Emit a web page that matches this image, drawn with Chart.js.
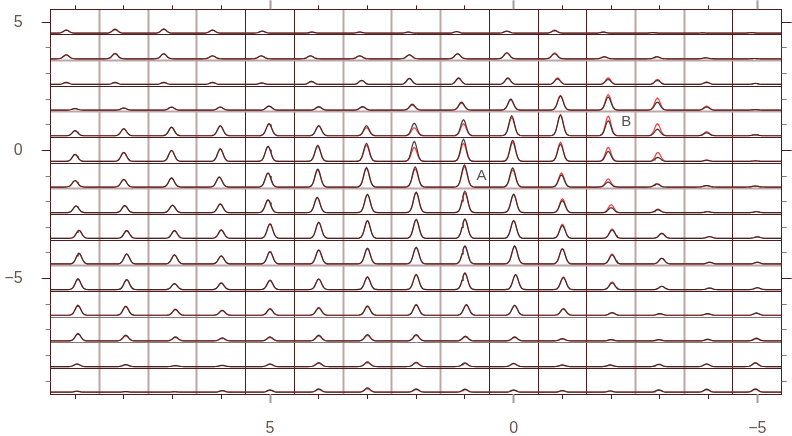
<!DOCTYPE html>
<html><head><meta charset="utf-8">
<script src="https://cdn.jsdelivr.net/npm/chart.js@4/dist/chart.umd.min.js"></script>
<style>html,body{margin:0;padding:0;background:#fff}canvas{display:block}</style>
</head><body>
<canvas id="c" width="792" height="436"></canvas>
<script>
// ---- data ----
const columnCenters = [9,8,7,6,5,4,3,2,1,0,-1,-2,-3,-4,-5];
const rowCenters = [5,4,3,2,1,0,-1,-2,-3,-4,-5,-6,-7,-8,-9];
const xTickValues = [9,8,7,6,5,4,3,2,1,0,-1,-2,-3,-4,-5];
const yTickValues = [5,4,3,2,1,0,-1,-2,-3,-4,-5,-6,-7,-8,-9];
const xLabelValues = [5,0,-5];
const yLabelValues = [5,0,-5];
const vDividers = [8.5,7.5,6.5,5.5,4.5,3.5,2.5,1.5,0.5,-0.5,-1.5,-2.5,-3.5,-4.5];
const vDividerTone = ['light','light','light','dark','dark','light','light','light','dark','dark','dark','light','light','dark'];
const hDividers = [4.5,3.5,2.5,1.5,0.5,-0.5,-1.5,-2.5,-3.5,-4.5,-5.5,-6.5,-7.5,-8.5];
const hDividerTone = ['dark','light','dark','light','dark','dark','light','dark','dark','light','dark','mid','mid','dark'];
// peak line shape (offset in x units, relative height)
const profileOffset = [-0.22,-0.17,-0.13,-0.1,-0.08,-0.06,-0.04,-0.02,0,0.02,0.04,0.06,0.08,0.1,0.13,0.17,0.22];
const profileShape  = [0,0.012,0.074,0.21,0.37,0.57,0.78,0.94,1,0.94,0.78,0.57,0.37,0.21,0.074,0.012,0];
const baselineOffset = -0.43;   // baseline of each strip relative to row centre
const intensityScale = 0.039;   // y units per intensity unit
// peak position shift of each cell (x units), rows top->bottom, columns left->right
const peakShift = [
 [0.18,0.18,0.18,0.18,0.16,0.14,0.16,0.16,0.17,0.14,0.16,0.16,0.14,0.12,0.12],
 [0.18,0.18,0.18,0.18,0.18,0.17,0.16,0.14,0.15,0.14,0.16,0.14,0.06,0.06,0.06],
 [0.18,0.18,0.18,0.18,0.17,0.15,0.12,0.14,0.13,0.12,0.10,0.06,0.05,0.04,0.04],
 [0,0,0.02,0.02,0.02,0,0.10,0.08,0.07,0.06,0.04,0.06,0.05,0.04,0.04],
 [0,0,0.02,0.02,0.02,0,0.02,0.04,0.03,0.04,0.04,0.06,0.05,0.04,0.04],
 [0,0,0.02,0.02,0.04,0.02,0.02,0.04,0.03,0.02,0.04,0.06,0.04,0.04,0.04],
 [0,0,0.02,0.04,0.04,0.02,0.02,0.02,0.01,0.02,0.02,0.06,0.06,0.04,0.04],
 [-0.02,-0.02,0,0.02,0.04,0.03,0,0,0,0,0,0,0.04,0.02,0.02],
 [-0.08,-0.06,-0.04,0,0,0,0,0,0,0,0,-0.02,-0.04,-0.02,0],
 [-0.08,-0.06,-0.04,0,0,0,0,0,0,-0.02,0,-0.02,-0.04,-0.02,0],
 [-0.06,-0.06,-0.04,0,0,0,0,0,0,-0.04,-0.02,-0.02,-0.04,-0.02,0],
 [-0.06,-0.04,-0.06,-0.02,0,0,0,0,-0.03,-0.02,-0.02,-0.02,0,0.02,0.02],
 [-0.06,-0.04,-0.06,-0.02,0,0,0,0,-0.01,-0.02,0,0,0.02,0.02,0.02],
 [-0.04,-0.04,-0.06,-0.02,0,0,0,0,0,0,0,0.02,0.02,0.04,0.04],
 [-0.04,-0.04,-0.04,-0.02,0,0,0,0,0,0,0,0.02,0.02,0.04,0.04]
];
const blackIntensity = [
 [3,4,4,3,2,1,1,1,1.5,2,2.5,1,0.5,0.3,0.5],
 [4,5,5,3,3,3,3,4,5,6,5,2,2,1,0.3],
 [2,2,2,2,1.5,3,4,6,6.5,6.5,5.5,5,4,2,1],
 [1.5,2,3,3,4,3.5,3.5,6,8,11,14,13,8,3,0.5],
 [5,7,8.5,10,12,10,10,12.5,16,20,20.5,15,6.5,3,1],
 [7,9,11,12.5,15,16,18,20,22,21,17,10,4,1,0.5],
 [6.5,7.5,9,10,14,18,19.5,20,22,19,12,5,3,1.5,1],
 [6.7,7,7.5,8.7,12.7,15.3,18.3,20.5,21.5,18.5,12,5,3,1,1],
 [8,7.7,7.7,8.3,14.3,16,17.7,19,19.3,17.7,12.7,8.3,5,1.7,1.5],
 [10.7,10,9,8,12.3,14,15.7,16.7,18,18,15,9,5.7,1.7,1.7],
 [10.7,10,6,6.7,9.3,10.7,12.7,15,16.7,15,12,6.7,3.3,1.5,2],
 [10,9,6,5,6.7,7.7,9.3,10.7,10.7,10,6.7,2.7,1.7,1.7,2.3],
 [7.3,5.7,4,3,4,5.7,6.3,6.3,4.7,4,2.3,1.3,1.3,1.7,2.7],
 [2.7,2,1,1.3,2.7,4,4.7,4.3,3.7,3.3,1.7,1.7,2.3,2.7,4],
 [1,0.7,0.5,1.7,2.3,3.3,4.3,3.3,3,2.3,1.7,1.3,2.3,3,3.3]
];
const redIntensity = [
 [3,3.5,4,3,2,1,1,1,1.5,2,3,1,0.5,0.3,0.5],
 [4,5.5,5,3,3,3,3,4,5,6,6,2,2,1,0.3],
 [2,2,2,2,1.5,3,4,6,6,6,6.5,6.5,5,2.5,1],
 [1.5,2,3,3,4,3,3,5,7,10,14.5,15.5,12,4,0.5],
 [5,7,8.5,10,12,10,8,8,12,18,21,19.5,12,4,1],
 [7,9,11,12.5,15,15,16,14,18,19,19,14,9,1.5,0.5],
 [6.5,7.5,9,10,14,17,18.5,18,20,17,14,8,3.5,1.5,1],
 [6.7,7,7.5,8.7,13,15,18,20,19.5,18,14,8,3.5,1,1],
 [8,7.7,7.7,8.3,14.5,16,17.5,18.5,19,17.5,14,9.3,5,1.7,1.5],
 [10.5,10,9,8,12.5,14,15.5,16.5,17.5,17.5,15.5,10,5.7,1.7,1.7],
 [10.5,10,6,6.5,9.3,10.5,12.5,15,16,15,12.5,7.7,3.3,1.5,1.7],
 [9.5,8.5,5.5,4.5,6,7,8.5,10,10,9.5,6,2.3,1.3,1.3,2],
 [7,5,3.5,2.5,3.5,5,5.5,5.5,4,3.5,2,1,1,1.3,2.2],
 [2.3,1.7,0.8,1,2.2,3.3,4,3.7,3,2.7,1.3,1.3,2,2.3,3.3],
 [0.8,0.5,0.4,1.3,1.8,2.7,3.5,2.7,2.5,1.8,1.3,1,2,2.5,2.8]
];
const annotLabels = ['A','B'];
const annotX = [0.66,-2.31];
const annotY = [-0.99,1.12];
const xMin = -5.5, xMax = 9.5, yMin = -9.5, yMax = 5.5;

// ---- build strips ----
function stripPoints(r, heights){
  const base = rowCenters[r] + baselineOffset;
  const pts = [{x:xMax, y:base}];
  columnCenters.forEach((c,ci)=>{
    const centre = c + peakShift[r][ci];
    const h = heights[r][ci]*intensityScale;
    profileOffset.forEach((o,j)=>{ pts.push({x:centre - o, y:base + h*profileShape[j]}); });
  });
  pts.push({x:xMin, y:base});
  return pts;
}
const datasets = [];
rowCenters.forEach((rc,r)=>datasets.push({data:stripPoints(r,blackIntensity),borderColor:'rgba(40,40,40,0.9)',borderWidth:1.2,showLine:true,pointRadius:0,tension:0}));
rowCenters.forEach((rc,r)=>datasets.push({data:stripPoints(r,redIntensity),borderColor:'#ff3b3b',borderWidth:1.2,showLine:true,pointRadius:0,tension:0}));

const dark = '#4d1c1c', light = '#bfa6a6', mid = '#8f7474';
const toneColor = t => t==='light'?light:(t==='mid'?mid:dark);
const snap = v => Math.round(v-0.5)+0.5;

const framePlugin = {
  id:'frame',
  beforeDatasetsDraw(chart){
    const {ctx, chartArea:a, scales:{x,y}} = chart;
    ctx.save();
    vDividers.forEach((v,i)=>{
      const t = vDividerTone[i]; const px = snap(x.getPixelForValue(v));
      ctx.strokeStyle = toneColor(t); ctx.lineWidth = t==='light'?2:1;
      ctx.beginPath(); ctx.moveTo(px,a.top); ctx.lineTo(px,a.bottom); ctx.stroke();
    });
    hDividers.forEach((v,i)=>{
      const t = hDividerTone[i]; const py = snap(y.getPixelForValue(v));
      ctx.strokeStyle = toneColor(t); ctx.lineWidth = t==='light'?2:1;
      ctx.beginPath(); ctx.moveTo(a.left,py); ctx.lineTo(a.right,py); ctx.stroke();
    });
    ctx.restore();
  },
  afterDatasetsDraw(chart){
    const {ctx, chartArea:a, scales:{x,y}} = chart;
    ctx.save();
    ctx.strokeStyle = dark; ctx.lineWidth = 1;
    ctx.strokeRect(snap(a.left), snap(a.top), Math.round(a.right-a.left), Math.round(a.bottom-a.top));
    xTickValues.forEach(v=>{
      const px = snap(x.getPixelForValue(v));
      const major = xLabelValues.includes(v);
      ctx.strokeStyle = major ? '#a89a9a' : dark; ctx.lineWidth = major?2:1;
      ctx.beginPath(); ctx.moveTo(px,a.bottom); ctx.lineTo(px,a.bottom+(major?9:5)); ctx.stroke();
      ctx.beginPath(); ctx.moveTo(px,a.top); ctx.lineTo(px,a.top-(major?9:4)); ctx.stroke();
    });
    yTickValues.forEach(v=>{
      const py = snap(y.getPixelForValue(v));
      const major = yLabelValues.includes(v);
      ctx.strokeStyle = major ? dark : '#8f7474'; ctx.lineWidth = 1;
      ctx.beginPath(); ctx.moveTo(a.left,py); ctx.lineTo(a.left-(major?9:5),py); ctx.stroke();
      ctx.beginPath(); ctx.moveTo(a.right,py); ctx.lineTo(a.right+(major?10:5),py); ctx.stroke();
    });
    ctx.fillStyle = '#555555'; ctx.font = '15px "Liberation Sans", Arial, sans-serif';
    ctx.textAlign = 'center'; ctx.textBaseline = 'middle';
    annotLabels.forEach((t,i)=>ctx.fillText(t, x.getPixelForValue(annotX[i]), y.getPixelForValue(annotY[i])));
    ctx.restore();
  }
};

const fmt = v => v<0 ? '\u2212'+Math.abs(v) : String(v);
const tickFont = {family:'"Liberation Sans", Arial, sans-serif', size:16};
new Chart(document.getElementById('c'), {
  type:'scatter',
  data:{datasets},
  options:{
    responsive:false, animation:false, devicePixelRatio:1,
    layout:{padding:{top:9.3,right:10.3,left:0,bottom:0}},
    plugins:{legend:{display:false}, tooltip:{enabled:false}},
    scales:{
      x:{type:'linear', reverse:true, min:xMin, max:xMax,
         afterBuildTicks:s=>{s.ticks = xLabelValues.map(v=>({value:v}));},
         afterFit:s=>{s.height = 42; s.paddingLeft = 0; s.paddingRight = 0;},
         grid:{display:false, drawTicks:false}, border:{display:false},
         ticks:{callback:fmt, autoSkip:false, maxRotation:0, padding:25, color:'#6b5252', font:tickFont}},
      y:{type:'linear', min:yMin, max:yMax,
         afterBuildTicks:s=>{s.ticks = yLabelValues.map(v=>({value:v}));},
         afterFit:s=>{s.width = 50.7; s.paddingTop = 0; s.paddingBottom = 0;},
         grid:{display:false, drawTicks:false}, border:{display:false},
         ticks:{callback:fmt, autoSkip:false, padding:28, color:'#6b5252', font:tickFont}}
    }
  },
  plugins:[framePlugin]
});
</script>
</body></html>
